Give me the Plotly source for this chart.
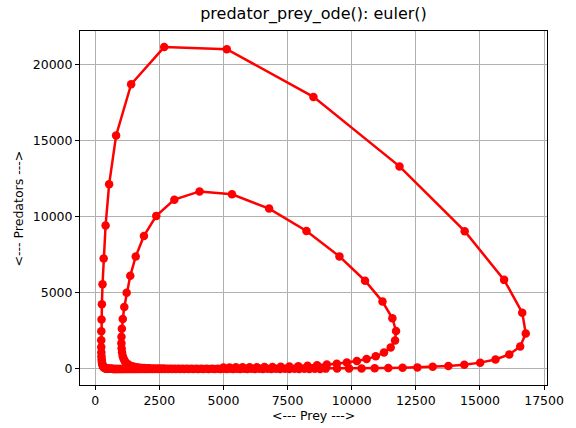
import plotly.graph_objects as go

# Prey / predator populations (Euler trajectory, 201 points)
prey = [
    5000, 5238, 5486, 5747, 6019, 6304, 6601, 6912, 7235, 7571,
    7919, 8280, 8651, 9032, 9420, 9811, 10201, 10580, 10938, 11259,
    11520, 11690, 11729, 11585, 11200, 10521, 9522, 8237, 6781, 5333,
    4070, 3086, 2382, 1902, 1581, 1368, 1227, 1135, 1076, 1041,
    1025, 1022, 1030, 1046, 1070, 1100, 1136, 1176, 1222, 1272,
    1326, 1384, 1446, 1513, 1583, 1658, 1737, 1821, 1909, 2002,
    2099, 2202, 2311, 2425, 2544, 2670, 2802, 2941, 3087, 3241,
    3402, 3571, 3749, 3935, 4131, 4337, 4553, 4780, 5018, 5268,
    5530, 5805, 6095, 6398, 6717, 7051, 7402, 7770, 8156, 8561,
    8986, 9431, 9897, 10385, 10895, 11428, 11983, 12560, 13157, 13769,
    14390, 15009, 15605, 16143, 16568, 16786, 16648, 15941, 14405, 11864,
    8509, 5130, 2690, 1402, 816, 544, 406, 331, 287, 262,
    247, 239, 236, 237, 240, 246, 253, 261, 271, 282,
    295, 308, 322, 337, 353, 370, 388, 407, 427, 448,
    470, 493, 518, 544, 571, 599, 629, 661, 694, 728,
    765, 803, 843, 885, 929, 976, 1025, 1076, 1130, 1186,
    1245, 1308, 1373, 1442, 1514, 1590, 1669, 1752, 1840, 1932,
    2029, 2130, 2237, 2348, 2466, 2589, 2719, 2854, 2997, 3147,
    3304, 3470, 3643, 3825, 4017, 4217, 4428, 4650, 4882, 5126,
    5383, 5652, 5934, 6231, 6543, 6870, 7213, 7574, 7952, 8350,
    8768,
]

predators = [
    100, 100, 101.2, 103.7, 107.5, 113.0, 120.4, 130.0, 142.4, 158.4,
    178.7, 204.8, 238.4, 281.9, 338.7, 413.6, 513.1, 646.5, 826.8, 1072,
    1408, 1867, 2491, 3330, 4426, 5798, 7398, 9071, 10539, 11477,
    11669, 11126, 10061, 8744, 7390, 6127, 5014, 4068, 3282, 2638,
    2116, 1695, 1358, 1089, 873.3, 701.7, 564.9, 455.8, 368.7, 299.0,
    243.3, 198.6, 162.7, 133.8, 110.5, 91.6, 76.3, 63.9, 53.7, 45.4,
    38.6, 33.0, 28.4, 24.6, 21.4, 18.8, 16.6, 14.8, 13.3, 12.0,
    10.9, 10.0, 9.3, 8.7, 8.3, 7.9, 7.6, 7.5, 7.4, 7.4,
    7.5, 7.7, 8.0, 8.4, 9.0, 9.8, 10.8, 12.1, 13.8, 16.0,
    18.8, 22.6, 27.6, 34.3, 43.6, 56.4, 74.5, 100.6, 138.6, 195.1,
    280.7, 412.4, 618.8, 947, 1475, 2328, 3699, 5854, 9056, 13314,
    17884, 21021, 21158, 18714, 15348, 12137, 9433, 7266, 5570, 4257,
    3249, 2477, 1887, 1438, 1095, 834.6, 636.2, 485.2, 370.2, 282.7,
    216.0, 165.2, 126.4, 96.8, 74.2, 57.0, 43.8, 33.7, 26.0, 20.1,
    15.5, 12.0, 9.3, 7.2, 5.6, 4.4, 3.4, 2.7, 2.1, 1.6,
    1.3, 1.0, 0.8, 0.6, 0.5, 0.4, 0.3, 0.3, 0.2, 0.2,
    0.1, 0.1, 0.1, 0.1, 0.1, 0.1, 0.0, 0.0, 0.0, 0.0,
    0.0, 0.0, 0.0, 0.0, 0.0, 0.0, 0.0, 0.0, 0.0, 0.0,
    0.0, 0.0, 0.0, 0.0, 0.0, 0.0, 0.0, 0.0, 0.0, 0.0,
    0.0, 0.0, 0.0, 0.0, 0.0, 0.0, 0.0, 0.0, 0.0, 0.0,
    0.0,
]

x_ticks = [0, 2500, 5000, 7500, 10000, 12500, 15000, 17500]
y_ticks = [0, 5000, 10000, 15000, 20000]

title_text = "predator_prey_ode(): euler()"
x_label = "<--- Prey --->"
y_label = "<--- Predators --->"

FONT = "DejaVu Sans"

xmin, xmax = min(prey), max(prey)
ymin, ymax = min(predators), max(predators)
xm = 0.05 * (xmax - xmin)
ym = 0.05 * (ymax - ymin)

fig = go.Figure()
fig.add_trace(go.Scatter(
    x=prey, y=predators, mode="lines+markers",
    line=dict(color="red", width=2.5),
    marker=dict(color="red", size=8.5, line=dict(width=0)),
    showlegend=False,
))

axis_common = dict(
    showline=True, mirror=True, linecolor="black", linewidth=1,
    ticks="outside", ticklen=4, tickwidth=1, tickcolor="black",
    showgrid=True, gridcolor="#b0b0b0", gridwidth=1,
    zeroline=False, tickformat="d",
    tickfont=dict(family=FONT, size=12.5, color="black"),
)

fig.update_layout(
    width=576, height=428,
    margin=dict(l=80, r=18, t=31, b=43),
    paper_bgcolor="white", plot_bgcolor="white",
    font=dict(family=FONT, color="black"),
    title=dict(text=title_text, x=0.5, xref="paper", xanchor="center",
               y=1 - 13 / 428, yref="container", yanchor="middle",
               font=dict(family=FONT, size=16, color="black")),
    xaxis=dict(range=[xmin - xm, xmax + xm], tickvals=x_ticks, **axis_common),
    yaxis=dict(range=[ymin - ym, ymax + ym], tickvals=y_ticks, **axis_common),
    annotations=[
        dict(text=x_label, xref="paper", yref="paper", x=0.5, y=-30 / 354,
             xanchor="center", yanchor="middle", showarrow=False,
             font=dict(family=FONT, size=12.5, color="black")),
        dict(text=y_label, xref="paper", yref="paper", x=(17 - 80) / 478, y=0.5,
             xanchor="center", yanchor="middle", showarrow=False, textangle=-90,
             font=dict(family=FONT, size=12.5, color="black")),
    ],
)

fig.write_html(
    "out.html",
    config={"displayModeBar": False, "staticPlot": True},
    post_script="document.body.style.margin='0';document.body.style.overflow='hidden';",
)
